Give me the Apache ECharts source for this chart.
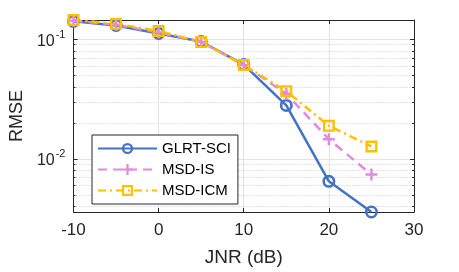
<!DOCTYPE html>
<html><head><meta charset="utf-8">
<script src="https://cdn.jsdelivr.net/npm/echarts@6/dist/echarts.min.js"></script>
<style>html,body{margin:0;padding:0;background:#fff}#c{width:459px;height:272px}</style>
</head><body><div id="c"></div>
<script>
// ---- data ----
const jnr = [-10, -5, 0, 5, 10, 15, 20, 25];
const glrtSci = [0.1411, 0.1303, 0.1117, 0.0957, 0.0614, 0.0280, 0.0065, 0.0036];
const msdIs  = [0.1430, 0.1320, 0.1140, 0.0950, 0.0608, 0.0350, 0.0146, 0.0074];
const msdIcm = [0.1448, 0.1345, 0.1172, 0.0946, 0.0610, 0.0368, 0.0189, 0.0127];
const seriesNames = ['GLRT-SCI', 'MSD-IS', 'MSD-ICM'];
const xTicks = [-10, 0, 10, 20, 30];
const yMajorTicks = [0.01, 0.1];
const yMinorTicks = [0.004, 0.005, 0.006, 0.007, 0.008, 0.009, 0.02, 0.03, 0.04, 0.05, 0.06, 0.07, 0.08, 0.09];
const xMin = -10, xMax = 30, xStep = 10;
const yMin = 0.0036, yMax = 0.1448;

// ---- styles ----
const FONT = '"Liberation Sans", Arial, Helvetica, sans-serif';
const AX = '#262626';
const colors = ['#4472C4', '#E08BE0', '#FFC000'];
const ringCircle = 'path://M12,6A6,6 0 1,1 0,6A6,6 0 1,1 12,6Z M9.6,6A3.6,3.6 0 1,0 2.4,6A3.6,3.6 0 1,0 9.6,6Z';
const ringSquare = 'path://M0,0H12V12H0Z M2.4,2.4V9.6H9.6V2.4Z';
const plusSym = 'path://M4.8,0H7.2V4.8H12V7.2H7.2V12H4.8V7.2H0V4.8H4.8Z';

function pairs(vals) { return jnr.map((x, i) => [x, vals[i]]); }

const chart = echarts.init(document.getElementById('c'), null, {renderer: 'canvas'});
const yBase = {type: 'log', logBase: 10, min: yMin, max: yMax};
chart.setOption({
  animation: false,
  backgroundColor: '#fff',
  textStyle: {fontFamily: FONT},
  grid: {left: 66, right: 45, top: 20, bottom: 53, containLabel: false},
  legend: {
    orient: 'vertical', left: 92, top: 135,
    backgroundColor: '#fff', borderColor: AX, borderWidth: 1, borderRadius: 0,
    padding: [6, 7, 6, 5], itemWidth: 59, itemHeight: 14, itemGap: 6,
    textStyle: {fontFamily: FONT, fontSize: 15, color: '#000', padding: [0, 0, 0, 0]},
    data: seriesNames
  },
  xAxis: [
    {type: 'value', min: xMin, max: xMax, interval: xStep, position: 'bottom',
     name: 'JNR (dB)', nameLocation: 'middle', nameGap: 36,
     nameTextStyle: {fontFamily: FONT, fontSize: 19, color: AX},
     axisLine: {show: true, onZero: false, lineStyle: {color: AX, width: 1}},
     axisTick: {show: true, inside: true, length: 4, lineStyle: {color: AX}},
     axisLabel: {show: true, margin: 10, fontFamily: FONT, fontSize: 17, color: AX,
                 customValues: xTicks},
     splitLine: {show: true, lineStyle: {color: '#e3e3e3', width: 1}}},
    {type: 'value', min: xMin, max: xMax, interval: xStep, position: 'top',
     axisLine: {show: true, onZero: false, lineStyle: {color: AX, width: 1}},
     axisTick: {show: true, inside: true, length: 4, lineStyle: {color: AX}},
     axisLabel: {show: false}, splitLine: {show: false}}
  ],
  yAxis: [
    Object.assign({}, yBase, {position: 'left',
     name: 'RMSE', nameLocation: 'middle', nameGap: 44,
     nameTextStyle: {fontFamily: FONT, fontSize: 18, color: AX},
     axisLine: {show: true, onZero: false, lineStyle: {color: AX, width: 1}},
     axisTick: {show: true, inside: true, length: 4, customValues: yMajorTicks, lineStyle: {color: AX}},
     axisLabel: {show: true, margin: 8, customValues: yMajorTicks,
       formatter: v => '{b|10}{s|' + Math.round(Math.log10(v)) + '}',
       rich: {b: {fontFamily: FONT, fontSize: 16, color: AX, lineHeight: 20, verticalAlign: 'bottom', padding: [0, 0, 0, 0]},
              s: {fontFamily: FONT, fontSize: 11, color: AX, lineHeight: 20, verticalAlign: 'top', padding: [0, 0, 0, 1]}}},
     splitLine: {show: true, lineStyle: {color: '#e3e3e3', width: 1}}}),
    Object.assign({}, yBase, {position: 'left',
     axisLine: {show: false, onZero: false},
     axisTick: {show: true, inside: true, length: 2, customValues: yMinorTicks, lineStyle: {color: AX}},
     axisLabel: {show: false},
     splitLine: {show: true, lineStyle: {color: '#c8c8c8', width: 1, type: [1, 2]}}}),
    Object.assign({}, yBase, {position: 'right',
     axisLine: {show: true, onZero: false, lineStyle: {color: AX, width: 1}},
     axisTick: {show: true, inside: true, length: 4, customValues: yMajorTicks, lineStyle: {color: AX}},
     axisLabel: {show: false}, splitLine: {show: false}}),
    Object.assign({}, yBase, {position: 'right',
     axisLine: {show: false, onZero: false},
     axisTick: {show: true, inside: true, length: 2, customValues: yMinorTicks, lineStyle: {color: AX}},
     axisLabel: {show: false}, splitLine: {show: false}})
  ],
  series: [
    {type: 'line', name: seriesNames[0], data: pairs(glrtSci), yAxisIndex: 0,
     symbol: ringCircle, symbolSize: 13, showAllSymbol: true,
     lineStyle: {color: colors[0], width: 2.5, type: 'solid'},
     itemStyle: {color: colors[0]}},
    {type: 'line', name: seriesNames[1], data: pairs(msdIs), yAxisIndex: 0,
     symbol: plusSym, symbolSize: 12, showAllSymbol: true,
     lineStyle: {color: colors[1], width: 2.5, type: [9, 6]},
     itemStyle: {color: colors[1]}},
    {type: 'line', name: seriesNames[2], data: pairs(msdIcm), yAxisIndex: 0,
     symbol: ringSquare, symbolSize: 12, showAllSymbol: true,
     lineStyle: {color: colors[2], width: 2.5, type: [8, 4, 2, 4]},
     itemStyle: {color: colors[2]}}
  ]
});
</script></body></html>
